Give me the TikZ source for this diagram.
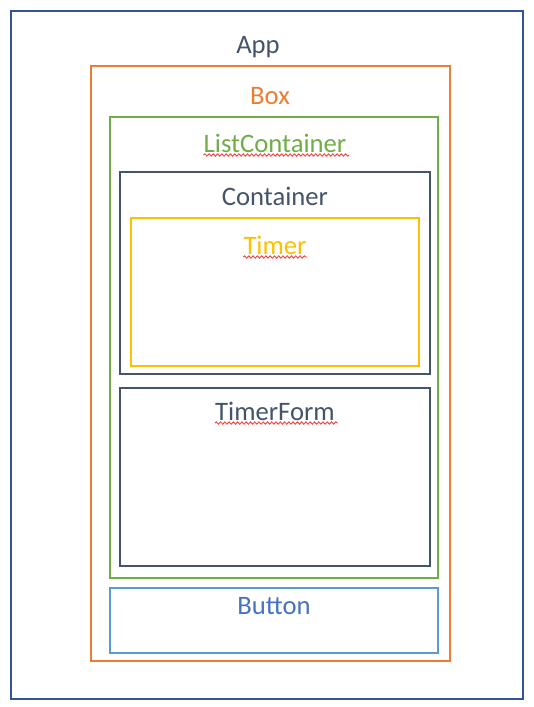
\documentclass[tikz,border=0pt]{standalone}
\usepackage{fontspec}
\setmainfont{Carlito}
\usetikzlibrary{decorations.pathmorphing}
\definecolor{appc}{HTML}{2F5597}
\definecolor{slate}{HTML}{44546A}
\definecolor{boxc}{HTML}{ED7D31}
\definecolor{listc}{HTML}{70AD47}
\definecolor{timerc}{HTML}{FFC000}
\definecolor{btnc}{HTML}{5B9BD5}
\definecolor{btntxt}{HTML}{4472C4}
\definecolor{spellc}{HTML}{FF3333}
\tikzset{
  frame/.style={draw=#1, line width=1.5pt},
  lbl/.style={anchor=base, inner sep=0pt, text=#1, font=\fontsize{20}{24}\selectfont},
  spell/.style={draw=spellc, line width=0.6pt, decorate,
    decoration={snake, amplitude=0.9, segment length=3.2}}
}
\begin{document}
\begin{tikzpicture}[x=0.75pt, y=-0.75pt]
\useasboundingbox (0,0) rectangle (534,707);
\fill[white] (0,0) rectangle (534,707);
% frames
\draw[frame=appc]   (11,11)   rectangle (523,699);
\draw[frame=boxc]   (91,66)   rectangle (450,661);
\draw[frame=listc]  (110,117) rectangle (438,578);
\draw[frame=slate]  (120,172) rectangle (430,374);
\draw[frame=timerc] (131,218) rectangle (419,366);
\draw[frame=slate]  (120,388) rectangle (430,566);
\draw[frame=btnc]   (110,588) rectangle (438,653);
% labels
\node[lbl=slate]  (tapp)  at (258,53)  {App};
\node[lbl=boxc]   (tbox)  at (270,104) {Box};
\node[lbl=listc]  (tlist) at (275,152) {ListContainer};
\node[lbl=slate]  (tcont) at (275,205) {Container};
\node[lbl=timerc] (ttim)  at (275,254) {Timer};
\node[lbl=slate]  (tform) at (275,420) {TimerForm};
\node[lbl=btntxt] (tbtn)  at (274,614) {Button};
% spell-check squiggles
\draw[spell] (tlist.base west) ++(0,3) -- ++(146,0);
\draw[spell] (ttim.base west) ++(0,3) -- ++(64,0);
\draw[spell] (tform.base west) ++(0,3) -- ++(123,0);
\end{tikzpicture}
\end{document}
